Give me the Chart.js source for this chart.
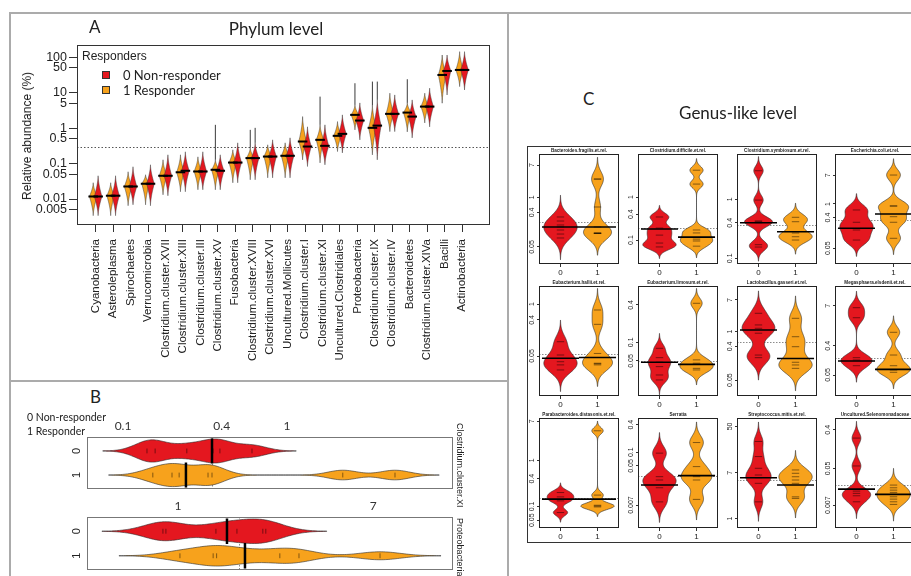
<!DOCTYPE html>
<html lang="en">
<head>
<meta charset="UTF-8">
<title>Beanplots: phylum and genus-like level</title>
<script src="https://cdn.jsdelivr.net/npm/chart.js"></script>
<style>
    * { margin: 0; padding: 0; box-sizing: border-box; }
    body {
        width: 911px; height: 576px; overflow: hidden; position: relative;
        background: #fff; color: #222;
        font-family: 'Liberation Sans', Arial, sans-serif;
    }
    canvas { position: absolute; }
    .rule { position: absolute; background: #ababab; }
    .txt { position: absolute; white-space: nowrap; z-index: 2; }
    .calibri { font-family: Lato, 'Open Sans', sans-serif; }
    .letter { font-size: 17px; line-height: 20px; }
    .title { font-size: 17px; line-height: 20px; transform: translateX(-50%); }
    .swatch { position: absolute; width: 8px; height: 8px; border: 1px solid #333; z-index: 2; }
    .vtext { writing-mode: vertical-rl; font-size: 9px; }
    .gtitle { font-size: 4.6px; line-height: 5px; font-weight: bold; text-align: center; width: 80px; }
</style>
</head>
<body>

<!-- panel frames -->
<div class="rule" style="left:9px; top:12px; width:902px; height:1.5px;"></div>
<div class="rule" style="left:9px; top:12px; width:1.5px; height:564px;"></div>
<div class="rule" style="left:9px; top:380px; width:498px; height:1.5px;"></div>
<div class="rule" style="left:507px; top:12px; width:1.5px; height:564px;"></div>
<div style="position:absolute; left:527px; top:146px; width:400px; height:397px; border:1px solid #333;"></div>

<!-- panel A texts -->
<div class="txt calibri letter" style="left:89px; top:17px;">A</div>
<div class="txt calibri title" style="left:276px; top:19px;">Phylum level</div>
<div class="txt" style="left:82px; top:49px; font-size:12px;">Responders</div>
<div class="swatch" style="left:102px; top:71px; background:#e4171f;"></div>
<div class="txt calibri" style="left:123px; top:67px; font-size:13px;">0 Non-responder</div>
<div class="swatch" style="left:102px; top:86px; background:#f7a21c;"></div>
<div class="txt calibri" style="left:123px; top:82px; font-size:13px;">1 Responder</div>
<div class="txt" style="left:27px; top:136px; font-size:12px; transform:translate(-50%,-50%) rotate(-90deg);">Relative abundance (%)</div>

<!-- panel B texts -->
<div class="txt calibri letter" style="left:90px; top:387px;">B</div>
<div class="txt calibri" style="left:27px; top:411px; font-size:10.5px;">0 Non-responder</div>
<div class="txt calibri" style="left:27px; top:425px; font-size:10.5px;">1 Responder</div>
<div class="txt vtext" style="left:455px; top:423px;">Clostridium.cluster.XI</div>
<div class="txt vtext" style="left:455px; top:518px;">Proteobacteria</div>

<!-- panel C texts -->
<div class="txt calibri letter" style="left:583px; top:89px;">C</div>
<div class="txt calibri title" style="left:738px; top:103px;">Genus-like level</div>

<script>
const RED = '#e4171f';
const ORANGE = '#f7a21c';

// ---------- Panel A data (relative abundance, %) ----------
const phyla = ['Cyanobacteria', 'Asteroleplasma', 'Spirochaetes', 'Verrucomicrobia',
    'Clostridium.cluster.XVII', 'Clostridium.cluster.XIII', 'Clostridium.cluster.III',
    'Clostridium.cluster.XV', 'Fusobacteria', 'Clostridium.cluster.XVIII',
    'Clostridium.cluster.XVI', 'Uncultured.Mollicutes', 'Clostridium.cluster.I',
    'Clostridium.cluster.XI', 'Uncultured.Clostridiales', 'Proteobacteria',
    'Clostridium.cluster.IX', 'Clostridium.cluster.IV', 'Bacteroidetes',
    'Clostridium.cluster.XIVa', 'Bacilli', 'Actinobacteria'];

const respMean = [0.0118, 0.0124, 0.0226, 0.027, 0.0453, 0.0569, 0.0599, 0.0669, 0.107, 0.143, 0.158,
    0.166, 0.42, 0.468, 0.607, 2.37, 1.02, 2.53, 2.75, 4.06, 31.7, 43.9];
const respLow = [0.0034, 0.0034, 0.0065, 0.0069, 0.0132, 0.0161, 0.0183, 0.0183, 0.0288, 0.035, 0.0398,
    0.0398, 0.128, 0.105, 0.219, 0.895, 0.177, 0.8, 0.787, 1.41, 5.06, 14.9];
const respHigh = [0.0288, 0.0288, 0.0587, 0.0484, 0.128, 0.177, 0.155, 0.128, 0.245, 0.279, 0.339,
    0.385, 2.12, 1.24, 1.53, 4.53, 4.5, 9.68, 5.16, 9.68, 116, 144];
const respTail = [null, null, null, null, null, null, null, 1.24, null, 0.895, null,
    null, null, 7.76, null, 18.5, 20.6, null, 24, null, null, null];

const nonMean = [0.0118, 0.0124, 0.0226, 0.027, 0.0453, 0.0627, 0.0599, 0.0627, 0.107, 0.143, 0.158,
    0.166, 0.303, 0.317, 0.69, 1.64, 1.18, 2.53, 2.12, 4.06, 41.1, 43.9];
const nonLow = [0.0034, 0.0034, 0.0069, 0.0065, 0.0124, 0.0161, 0.0183, 0.0183, 0.0288, 0.035, 0.0398,
    0.0398, 0.083, 0.0925, 0.201, 0.468, 0.128, 0.8, 0.533, 1.09, 8.67, 12];
const nonHigh = [0.0453, 0.0453, 0.0813, 0.0925, 0.177, 0.215, 0.215, 0.177, 0.385, 0.385, 0.468,
    0.533, 1.09, 1.24, 2.37, 5.16, 6.27, 8.67, 6.27, 13.4, 116, 144];
const nonTail = [null, null, null, null, null, null, null, null, null, 1.02, null,
    null, null, null, null, null, 20.6, null, null, null, null, null];

const yTicksA = [0.005, 0.01, 0.05, 0.1, 0.5, 1, 5, 10, 50, 100];
const overallA = 0.29;

// ---------- Panel B data ----------
const bGroups = ['0', '1'];
const clXITicks = [0.1, 0.4, 1];
const clXINon = [0.14, 0.157, 0.245, 0.354, 0.39, 0.612];
const clXIResp = [0.152, 0.199, 0.22, 0.33, 0.349, 2.19, 4.56];
const clXIMeans = [0.349, 0.242];
const clXIOverall = 0.349;
const proteoTicks = [1, 7];
const proteoNon = [0.861, 0.887, 1.46, 1.8, 2.33, 2.4];
const proteoResp = [1.02, 1.42, 1.47, 1.95, 2.76, 3.34, 7.49];
const proteoMeans = [1.63, 1.95];
const proteoOverall = 1.84;

// ---------- Panel C data ----------
const genera = ['Bacteroides.fragilis.et.rel.', 'Clostridium.difficile.et.rel.',
    'Clostridium.symbiosum.et.rel.', 'Escherichia.coli.et.rel.',
    'Eubacterium.hallii.et.rel.', 'Eubacterium.limosum.et.rel.',
    'Lactobacillus.gasseri.et.rel.', 'Megasphaera.elsdenii.et.rel.',
    'Parabacteroides.distasonis.et.rel.', 'Serratia',
    'Streptococcus.mitis.et.rel.', 'Uncultured.Selenomonadaceae'];
const genusTicks = [[0.05, 0.4, 1, 7], [0.1, 0.4, 1], [0.1, 0.4, 1], [0.05, 0.4, 1, 7],
    [0.05, 0.4, 1], [0.05, 0.1, 0.4], [0.05, 0.4, 1, 7], [0.05, 0.4, 7],
    [0.05, 0.1, 0.4, 1, 7], [0.007, 0.05, 0.1, 0.4], [1, 7, 50], [0.007, 0.05, 0.4]];
const genusMin = [0.0179, 0.0277, 0.08, 0.0172, 0.005, 0.0136, 0.0187, 0.0112, 0.034, 0.0022, 0.668, 0.00206];
const genusMax = [13.6, 10, 5.86, 29.5, 2.82, 0.81, 16.6, 28.5, 8.3, 0.561, 71.6, 0.752];
const genusNon = [
    [0.305, 0.239, 0.188, 0.167, 0.139, 0.109, 0.086],
    [0.343, 0.19, 0.13, 0.085, 0.069],
    [3.05, 0.97, 0.43, 0.417, 0.40, 0.17, 0.155],
    [0.667, 0.29, 0.172, 0.087],
    [0.114, 0.053, 0.036, 0.030, 0.0224],
    [0.08, 0.0565, 0.0477, 0.0405, 0.0297, 0.0247],
    [3.08, 1.5, 1.22, 0.9, 0.234, 0.199],
    [6.07, 2.97, 0.172, 0.146, 0.097],
    [0.2, 0.161, 0.132, 0.0736],
    [0.0955, 0.0292, 0.0247, 0.0167, 0.0082],
    [26.4, 13.9, 8.45, 6.35, 5.66, 4.46, 2.03],
    [0.256, 0.0574, 0.0149, 0.0132, 0.0116, 0.0084]
];
const genusResp = [
    [3.0, 3.0, 0.557, 0.167, 0.116, 0.116, 0.113, 0.113],
    [4.2, 2.0, 0.171, 0.146, 0.105, 0.095, 0.072],
    [0.495, 0.417, 0.268, 0.232, 0.204],
    [7.1, 0.873, 0.873, 0.423, 0.29, 0.098],
    [0.708, 0.31, 0.058, 0.033, 0.030, 0.032],
    [0.426, 0.052, 0.046, 0.038, 0.0358],
    [2.26, 0.726, 0.392, 0.15, 0.127, 0.103],
    [1.05, 0.208, 0.097, 0.0715, 0.0607],
    [4.38, 0.176, 0.106, 0.0975, 0.102],
    [0.163, 0.0485, 0.0292, 0.0247, 0.0093],
    [7.87, 6.83, 5.9, 5.13, 4.46, 2.51, 2.35],
    [0.0206, 0.0178, 0.0157, 0.0139, 0.0125, 0.011, 0.0097, 0.0084, 0.0073]
];
const genusMeanNon = [0.167, 0.18, 0.40, 0.193, 0.044, 0.0477, 1.1, 0.136, 0.144, 0.0192, 5.66, 0.0166];
const genusMeanResp = [0.167, 0.117, 0.282, 0.508, 0.046, 0.044, 0.19, 0.075, 0.144, 0.0308, 4.14, 0.0125];
const genusOverall = [0.225, 0.193, 0.367, 0.339, 0.055, 0.05, 0.514, 0.172, 0.149, 0.030, 5.13, 0.0206];

// kernel bandwidth (log10 units) for each small plot
const genusBw = [0.19, 0.09, 0.08, 0.16, 0.18, 0.08, 0.2, 0.17, 0.07, 0.15, 0.12, 0.13];

// ---------- plugins ----------
function addCanvas(left, top, w, h) {
    const c = document.createElement('canvas');
    c.width = w; c.height = h;
    c.style.left = left + 'px'; c.style.top = top + 'px';
    c.style.width = w + 'px'; c.style.height = h + 'px';
    document.body.appendChild(c);
    return c;
}

const framePlugin = {
    id: 'frame',
    afterDraw(chart, args, o) {
        const a = chart.chartArea, ctx = chart.ctx;
        ctx.save();
        ctx.strokeStyle = o.color || '#333';
        ctx.lineWidth = 1;
        ctx.strokeRect(a.left + 0.5, a.top + 0.5, a.width - 1, a.height - 1);
        ctx.restore();
    }
};

// rotated tick labels on the left side (read bottom to top)
const sideTicks = {
    id: 'sideTicks',
    afterDraw(chart, args, o) {
        if (!o.axis) return;
        const sc = chart.scales[o.axis], ctx = chart.ctx;
        ctx.save();
        ctx.font = o.font;
        ctx.fillStyle = '#222';
        ctx.textAlign = 'center';
        ctx.textBaseline = 'middle';
        sc.ticks.forEach(t => {
            ctx.save();
            ctx.translate(chart.chartArea.left - o.offset, sc.getPixelForValue(t.value));
            ctx.rotate(-Math.PI / 2);
            ctx.fillText(t.label != null ? t.label : String(t.value), 0, 0);
            ctx.restore();
        });
        ctx.restore();
    }
};

// bean plots: kernel density of log10 observations, mean line, observation ticks
const beanPlugin = {
    id: 'beans',
    beforeDatasetsDraw(chart, args, o) {
        const { ctx, chartArea: a } = chart;
        const vs = chart.scales[o.horizontal ? 'x' : 'y'];
        const p = Math.round(vs.getPixelForValue(o.overall)) + 0.5;
        ctx.save();
        ctx.strokeStyle = '#8c8c8c';
        ctx.lineWidth = 1;
        ctx.setLineDash([1.5, 1.5]);
        ctx.beginPath();
        if (o.horizontal) { ctx.moveTo(p, a.top); ctx.lineTo(p, a.bottom); }
        else { ctx.moveTo(a.left, p); ctx.lineTo(a.right, p); }
        ctx.stroke();
        ctx.restore();
    },
    afterDatasetsDraw(chart, args, o) {
        const { ctx, chartArea: a } = chart;
        const hz = o.horizontal;
        const vs = chart.scales[hz ? 'x' : 'y'];
        const ps = chart.scales[hz ? 'y' : 'x'];
        const pt = (pos, val) => hz
            ? [vs.getPixelForValue(val), ps.getPixelForValue(pos)]
            : [ps.getPixelForValue(pos), vs.getPixelForValue(val)];
        const bw = o.bw;
        const beans = chart.data.datasets.map(ds => {
            const logs = ds.obs.map(Math.log10);
            const lo = Math.min(...logs) - 3 * bw, hi = Math.max(...logs) + 3 * bw;
            const dens = [];
            for (let k = 0; k <= 140; k++) {
                const t = lo + (hi - lo) * k / 140;
                let d = 0;
                logs.forEach(l => { const z = (t - l) / bw; d += Math.exp(-0.5 * z * z); });
                dens.push([t, d / logs.length]);
            }
            return { ds, dens };
        });
        const maxD = Math.max(...beans.map(b => Math.max(...b.dens.map(d => d[1]))));

        ctx.save();
        ctx.beginPath();
        ctx.rect(a.left, a.top, a.width, a.height);
        ctx.clip();
        beans.forEach(({ ds, dens }) => {
            ctx.beginPath();
            dens.forEach(([t, d], i) => {
                const [X, Y] = pt(ds.pos + d / maxD * o.halfWidth, Math.pow(10, t));
                if (i) ctx.lineTo(X, Y); else ctx.moveTo(X, Y);
            });
            for (let i = dens.length - 1; i >= 0; i--) {
                const [t, d] = dens[i];
                const [X, Y] = pt(ds.pos - d / maxD * o.halfWidth, Math.pow(10, t));
                ctx.lineTo(X, Y);
            }
            ctx.closePath();
            ctx.fillStyle = ds.color;
            ctx.fill();
            ctx.strokeStyle = '#2a2a2a';
            ctx.lineWidth = 0.6;
            ctx.stroke();
        });
        beans.forEach(({ ds }) => {
            ctx.strokeStyle = 'rgba(0,0,0,0.6)';
            ctx.lineWidth = 0.8;
            ds.obs.forEach(v => {
                const [x1, y1] = pt(ds.pos - 0.1, v), [x2, y2] = pt(ds.pos + 0.1, v);
                ctx.beginPath(); ctx.moveTo(x1, y1); ctx.lineTo(x2, y2); ctx.stroke();
            });
        });
        beans.forEach(({ ds }) => {
            const [x1, y1] = pt(ds.pos - o.meanHalf, ds.mean), [x2, y2] = pt(ds.pos + o.meanHalf, ds.mean);
            ctx.strokeStyle = '#000';
            ctx.lineWidth = o.meanWidth;
            ctx.beginPath(); ctx.moveTo(x1, y1); ctx.lineTo(x2, y2); ctx.stroke();
        });
        ctx.restore();
    }
};

// split spindles for panel A
const spindlePlugin = {
    id: 'spindles',
    beforeDatasetsDraw(chart, args, o) {
        const { ctx, chartArea: a, scales: { y } } = chart;
        const p = Math.round(y.getPixelForValue(o.overall)) + 0.5;
        ctx.save();
        ctx.strokeStyle = '#555';
        ctx.lineWidth = 1;
        ctx.setLineDash([1.5, 2]);
        ctx.beginPath(); ctx.moveTo(a.left, p); ctx.lineTo(a.right, p); ctx.stroke();
        ctx.restore();
    },
    afterDatasetsDraw(chart, args, o) {
        const { ctx, chartArea: a, scales: { x, y } } = chart;
        const prof = t => Math.pow(1 - t, 1.6);
        const N = 20;
        ctx.save();
        ctx.beginPath(); ctx.rect(a.left, a.top, a.width, a.height); ctx.clip();
        chart.data.datasets.forEach(ds => {
            ds.data.forEach(d => {
                const cx = x.getPixelForValue(d.x + ds.shift);
                const hw = x.getPixelForValue(d.x + ds.shift + o.halfWidth) - cx;
                const ym = y.getPixelForValue(d.y), yl = y.getPixelForValue(d.lo), yh = y.getPixelForValue(d.hi);
                if (d.tail) {
                    ctx.strokeStyle = '#3a3a3a'; ctx.lineWidth = 1;
                    ctx.beginPath(); ctx.moveTo(cx, yh); ctx.lineTo(cx, y.getPixelForValue(d.tail)); ctx.stroke();
                }
                const side = [];
                for (let k = 0; k <= N; k++) side.push([yh + (ym - yh) * k / N, prof(1 - k / N)]);
                for (let k = 1; k <= N; k++) side.push([ym + (yl - ym) * k / N, prof(k / N)]);
                ctx.beginPath();
                side.forEach(([yy, w], i) => { if (i) ctx.lineTo(cx + hw * w, yy); else ctx.moveTo(cx + hw * w, yy); });
                for (let i = side.length - 1; i >= 0; i--) ctx.lineTo(cx - hw * side[i][1], side[i][0]);
                ctx.closePath();
                ctx.fillStyle = ds.color; ctx.fill();
                ctx.strokeStyle = '#3a3a3a'; ctx.lineWidth = 0.5; ctx.stroke();
            });
        });
        chart.data.datasets.forEach(ds => {
            ds.data.forEach(d => {
                const cx = x.getPixelForValue(d.x + ds.shift);
                const hw = x.getPixelForValue(d.x + ds.shift + o.halfWidth) - cx;
                const ym = y.getPixelForValue(d.y);
                ctx.strokeStyle = '#000'; ctx.lineWidth = 2;
                ctx.beginPath(); ctx.moveTo(cx - hw * 1.25, ym); ctx.lineTo(cx + hw * 1.25, ym); ctx.stroke();
            });
        });
        ctx.restore();
    }
};

const baseOpts = {
    responsive: false, animation: false, devicePixelRatio: 1, events: [],
};

// ---------- Panel A chart ----------
new Chart(addCanvas(0, 0, 505, 380), {
    type: 'scatter',
    data: {
        datasets: [
            { label: '1 Responder', color: ORANGE, shift: -0.14, pointRadius: 0,
              data: phyla.map((p, i) => ({ x: i, y: respMean[i], lo: respLow[i], hi: respHigh[i], tail: respTail[i] })) },
            { label: '0 Non-responder', color: RED, shift: 0.14, pointRadius: 0,
              data: phyla.map((p, i) => ({ x: i, y: nonMean[i], lo: nonLow[i], hi: nonHigh[i], tail: nonTail[i] })) }
        ]
    },
    options: {
        ...baseOpts,
        layout: { padding: { left: 0, top: 45, right: 15, bottom: 0 } },
        plugins: { legend: { display: false }, tooltip: { enabled: false },
                   spindles: { overall: overallA, halfWidth: 0.22 }, frame: { color: '#333' } },
        scales: {
            x: {
                type: 'linear', min: -1.07, max: 22.6,
                afterBuildTicks: s => { s.ticks = phyla.map((p, i) => ({ value: i })); },
                afterFit: s => { s.height = 155; },
                ticks: { autoSkip: false, minRotation: 90, maxRotation: 90, padding: 7, color: '#222',
                         font: { family: "'Liberation Sans', Arial", size: 11.5 },
                         callback: v => phyla[v] },
                grid: { drawOnChartArea: false, tickLength: 7, color: '#333' },
                border: { display: false }
            },
            y: {
                type: 'logarithmic', min: 0.00185, max: 222,
                afterBuildTicks: s => { s.ticks = yTicksA.map(v => ({ value: v })); },
                afterFit: s => { s.width = 77; },
                ticks: { padding: 2, color: '#222', font: { family: "'Liberation Sans', Arial", size: 12.5 },
                         callback: v => String(v) },
                grid: { drawOnChartArea: false, tickLength: 8, color: '#333' },
                border: { display: false }
            }
        }
    },
    plugins: [spindlePlugin, framePlugin]
});

// ---------- Panel B charts (horizontal beans) ----------
function hBean(top, height, ticks, xMin, xMax, nonObs, respObs, means, overall, bw) {
    new Chart(addCanvas(60, top, 410, height), {
        type: 'scatter',
        data: {
            datasets: [
                { obs: nonObs, pos: 1, mean: means[0], color: RED, pointRadius: 0, data: [{ x: means[0], y: 1 }] },
                { obs: respObs, pos: 2, mean: means[1], color: ORANGE, pointRadius: 0, data: [{ x: means[1], y: 2 }] }
            ]
        },
        options: {
            ...baseOpts,
            layout: { padding: { left: 0, top: 0, right: 17, bottom: 6 } },
            plugins: { legend: { display: false }, tooltip: { enabled: false },
                       beans: { horizontal: true, bw: bw, halfWidth: 0.5, meanHalf: 0.52, meanWidth: 2.5, overall: overall },
                       sideTicks: { axis: 'y', offset: 10, font: "11px 'Liberation Sans', Arial" },
                       frame: { color: '#777' } },
            scales: {
                x: {
                    type: 'logarithmic', position: 'top', min: xMin, max: xMax,
                    afterBuildTicks: s => { s.ticks = ticks.map(v => ({ value: v })); },
                    afterFit: s => { s.height = 22; },
                    ticks: { padding: 4, color: '#333', font: { family: 'Lato', size: 12 }, callback: v => String(v) },
                    grid: { display: false, drawTicks: false }, border: { display: false }
                },
                y: {
                    type: 'linear', reverse: true, min: 0.42, max: 2.58,
                    afterBuildTicks: s => { s.ticks = [{ value: 1 }, { value: 2 }]; },
                    afterFit: s => { s.width = 27; },
                    ticks: { display: false, callback: v => bGroups[v - 1] },
                    grid: { display: false, drawTicks: false }, border: { display: false }
                }
            }
        },
        plugins: [beanPlugin, sideTicks, framePlugin]
    });
}
hBean(415, 80, clXITicks, 0.0603, 10.3, clXINon, clXIResp, clXIMeans, clXIOverall, 0.09);
hBean(495, 81, proteoTicks, 0.404, 15.5, proteoNon, proteoResp, proteoMeans, proteoOverall, 0.088);

// ---------- Panel C charts (4 x 3 grid) ----------
const colLeft = [539, 638, 737, 835];
const rowTop = [154, 286, 418];
genera.forEach((g, i) => {
    const L = colLeft[i % 4], T = rowTop[Math.floor(i / 4)];
    const t = document.createElement('div');
    t.className = 'txt gtitle';
    t.style.left = L + 'px'; t.style.top = (T - 6) + 'px';
    t.textContent = g;
    document.body.appendChild(t);

    new Chart(addCanvas(L - 24, T - 4, 106, 132), {
        type: 'scatter',
        data: {
            datasets: [
                { obs: genusNon[i], pos: 1, mean: genusMeanNon[i], color: RED, pointRadius: 0, data: [{ x: 1, y: genusMeanNon[i] }] },
                { obs: genusResp[i], pos: 2, mean: genusMeanResp[i], color: ORANGE, pointRadius: 0, data: [{ x: 2, y: genusMeanResp[i] }] }
            ]
        },
        options: {
            ...baseOpts,
            layout: { padding: { left: 0, top: 4, right: 2, bottom: 0 } },
            plugins: { legend: { display: false }, tooltip: { enabled: false },
                       beans: { horizontal: false, bw: genusBw[i], halfWidth: 0.45, meanHalf: 0.5, meanWidth: 1.6, overall: genusOverall[i] },
                       sideTicks: { axis: 'y', offset: 7, font: "7px 'Liberation Sans', Arial" },
                       frame: { color: '#222' } },
            scales: {
                x: {
                    type: 'linear', min: 0.42, max: 2.58,
                    afterBuildTicks: s => { s.ticks = [{ value: 1 }, { value: 2 }]; },
                    afterFit: s => { s.height = 18; },
                    ticks: { padding: 1, color: '#222', font: { family: "'Liberation Sans', Arial", size: 8 },
                             callback: v => bGroups[v - 1] },
                    grid: { drawOnChartArea: false, tickLength: 3, color: '#333' },
                    border: { display: false }
                },
                y: {
                    type: 'logarithmic', min: genusMin[i], max: genusMax[i],
                    afterBuildTicks: s => { s.ticks = genusTicks[i].map(v => ({ value: v })); },
                    afterFit: s => { s.width = 24; },
                    ticks: { display: false, callback: v => String(v) },
                    grid: { drawOnChartArea: false, tickLength: 2, color: '#333' },
                    border: { display: false }
                }
            }
        },
        plugins: [beanPlugin, sideTicks, framePlugin]
    });
});
</script>
</body>
</html>
